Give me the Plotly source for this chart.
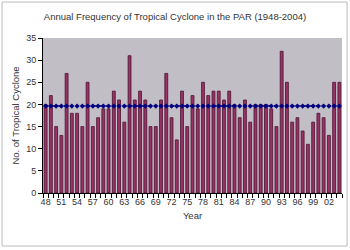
import plotly.graph_objects as go

years = list(range(1948, 2005))
counts = [20, 22, 15, 13, 27, 18, 18, 15, 25, 15,
          17, 19, 19, 23, 21, 16, 31, 21, 23, 21,
          15, 15, 21, 27, 17, 12, 23, 15, 22, 19,
          25, 22, 23, 23, 21, 23, 20, 17, 21, 16,
          20, 20, 20, 19, 15, 32, 25, 16, 17, 14,
          11, 16, 18, 17, 13, 25, 25]
average = sum(counts) / len(counts)
tick_years = years[::3]
tick_labels = [f"{y % 100:02d}" for y in tick_years]

fig = go.Figure()
fig.add_trace(go.Bar(
    x=years, y=counts, width=0.55,
    marker=dict(color="#993366", line=dict(color="#4a1030", width=0.8)),
    showlegend=False,
))
fig.add_trace(go.Scatter(
    x=years, y=[average] * len(years), mode="lines+markers",
    line=dict(color="#000080", width=1.5, dash="dot"),
    marker=dict(symbol="diamond", size=4, color="#000080"),
    showlegend=False,
))

font = "Liberation Sans, Arial, sans-serif"
fig.update_layout(
    width=350, height=250,
    margin=dict(l=43, r=8, t=38, b=57),
    paper_bgcolor="white", plot_bgcolor="#C2BEC6",
    font=dict(family=font, size=9, color="#333333"),
    title=dict(text="Annual Frequency of Tropical Cyclone in the PAR (1948-2004)",
               x=0.5, xanchor="center", y=0.935, yanchor="middle",
               font=dict(size=9.5, color="#333333")),
    bargap=0.4,
    shapes=[dict(type="rect", xref="paper", yref="paper",
                 x0=-0.137, x1=1.017, y0=-0.342, y1=1.232,
                 line=dict(color="#BBBBBB", width=1), layer="below")],
)
fig.update_xaxes(
    range=[1947.5, 2004.5], tickvals=tick_years, ticktext=tick_labels,
    ticks="", showgrid=False, zeroline=False,
    showline=True, linecolor="#000000", linewidth=1,
    minor=dict(dtick=1, tick0=1947.5, ticks="outside", ticklen=4,
               tickcolor="#000000", showgrid=False),
    title=dict(text="Year", font=dict(size=9.5, color="#333333"), standoff=6),
    tickfont=dict(size=9, color="#333333"),
)
fig.update_yaxes(
    range=[0, 35], dtick=5, ticks="outside", ticklen=4, tickcolor="#000000",
    showgrid=False, zeroline=False,
    showline=True, linecolor="#000000", linewidth=1,
    title=dict(text="No. of Tropical Cyclone", font=dict(size=9.5, color="#333333"), standoff=4),
    tickfont=dict(size=9, color="#333333"),
)
fig.write_html("out.html")
